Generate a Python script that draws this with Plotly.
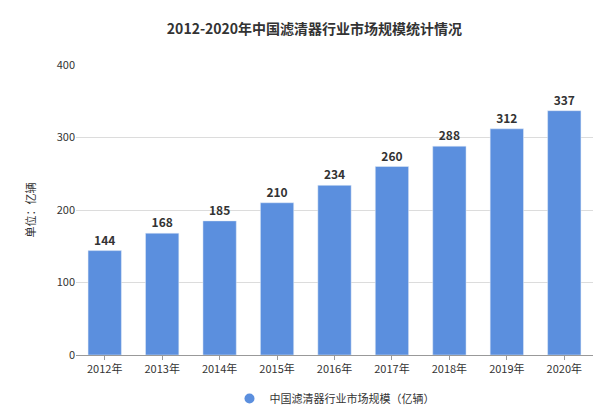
import plotly.graph_objects as go

years = ["2012年","2013年","2014年","2015年","2016年","2017年","2018年","2019年","2020年"]
values = [144,168,185,210,234,260,288,312,337]
series_name = "中国滤清器行业市场规模（亿辆）"
color = "#5b8fde"

fig = go.Figure(go.Bar(
    x=years, y=values, name=series_name, marker_color=color,
    text=[str(v) for v in values], textposition="outside",
    textfont=dict(size=12, color="#333", family="Noto Sans CJK SC"),
    width=0.58, showlegend=False, cliponaxis=False))
fig.add_trace(go.Scatter(x=[None], y=[None], mode="markers", name=series_name,
                         marker=dict(symbol="circle", size=10, color=color)))
fig.update_layout(
    width=613, height=417, plot_bgcolor="white", paper_bgcolor="white",
    margin=dict(l=68, r=28, t=57, b=42),
    font=dict(family="Noto Sans CJK SC", size=11, color="#333"),
    title=dict(text="<b>2012-2020年中国滤清器行业市场规模统计情况</b>", x=0.5, y=0.96,
               xanchor="center", font=dict(size=14, color="#333")),
    yaxis=dict(range=[0,400], dtick=100, gridcolor="#dcdcdc", zeroline=False,
               showline=False, ticks="", title=dict(text="单位：亿辆", standoff=18, font=dict(size=11))),
    xaxis=dict(showline=True, linecolor="#999", ticks="outside", tickcolor="#999", ticklen=4),
    legend=dict(orientation="h", x=0.5, xanchor="center", y=-0.1, yanchor="top",
                font=dict(size=11)),
    bargap=0.4)
fig.update_traces(texttemplate="<b>%{text}</b>", selector=dict(type="bar"))
fig.write_html("out.html")
